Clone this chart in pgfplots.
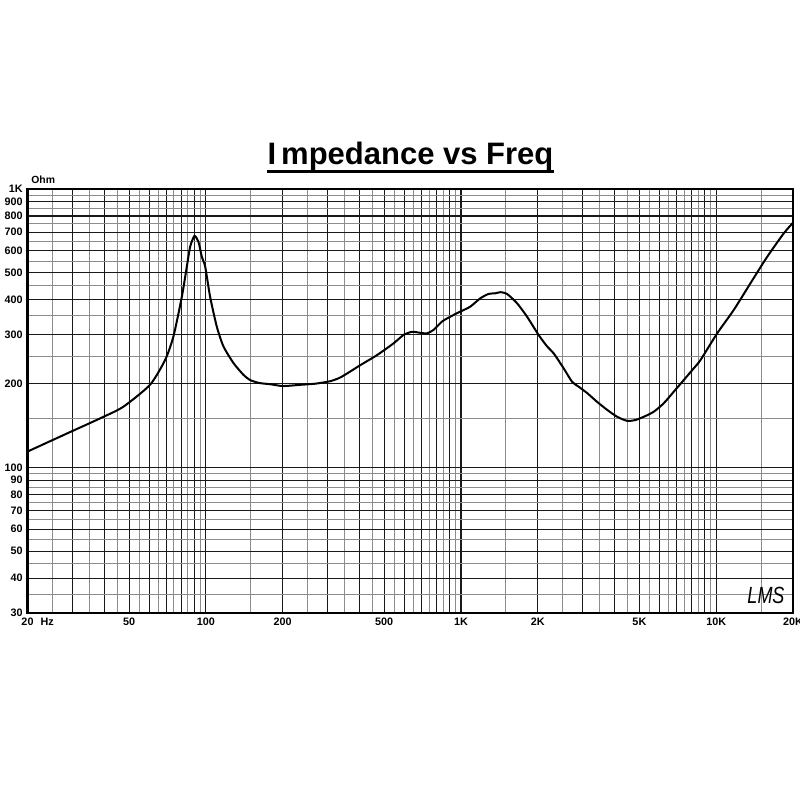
\documentclass[border=0pt]{standalone}
\usepackage{fontspec}
\setmainfont{Liberation Sans}
\usepackage{pgfplots}
\pgfplotsset{compat=1.18}
\begin{document}
\begin{tikzpicture}
\path[use as bounding box] (0,0) rectangle (400pt,400pt);
\begin{axis}[
  at={(13.75pt,93.5pt)}, anchor=south west,
  scale only axis, width=382.75pt, height=212pt,
  xmode=log, ymode=log,
  xmin=20, xmax=20000, ymin=30, ymax=1000,
  xtick={20,30,40,50,60,70,80,90,100,200,300,400,500,600,700,800,900,1000,2000,3000,4000,5000,6000,7000,8000,9000,10000,20000},
  xticklabels={20\rlap{\hspace{3.5pt}Hz},,,50,,,,,100,200,,,500,,,,,1K,2K,,,5K,,,,,10K,20K},
  minor xtick={25,35,45,55,65,75,85,95,150,250,350,450,550,650,750,850,950,1500,2500,3500,4500,5500,6500,7500,8500,9500,15000},
  ytick={30,40,50,60,70,80,90,100,200,300,400,500,600,700,800,900,1000},
  yticklabels={30,40,50,60,70,80,90,100,200,300,400,500,600,700,800,900,1K},
  minor ytick={35,45,55,65,75,85,95,150,250,350,450,550,650,750,850,950},
  grid=both,
  major grid style={black!90, line width=0.55pt},
  minor grid style={black!45, line width=0.5pt},
  major tick length=0pt, minor tick length=0pt,
  axis line style={line width=1.25pt},
  tick label style={font=\fontsize{5.4}{6.5}\selectfont\bfseries},
  xticklabel style={inner sep=0pt, yshift=-2.5pt, anchor=north},
  yticklabel style={inner sep=0pt, xshift=-2.25pt, anchor=east},
]
\addplot[black, line width=1pt, smooth, tension=0.4] coordinates {
(20,114)(24.9,125)(29.4,134)(38.5,150)(47.4,165)(60.4,198)(69.2,243)(74.6,295)(80.5,410)(84.2,526)(86.8,621)(90.2,678)(93.5,647)(96.4,571)(99.4,526)(103.9,410)(110.4,320)(117.2,272)(128.3,237)(140.4,215)(149,206)(162,201)(178.6,199)(200.8,196)(234,198)(270,200)(307,204)(335,210)(365,220)(403,233)(468,253)(544,279)(595,299)(642,307)(682,305)(735,303)(781,312)(842,334)(908,348)(994,363)(1087,378)(1190,405)(1283,420)(1363,422)(1426,426)(1514,420)(1657,389)(1814,348)(2014,299)(2174,272)(2306,257)(2524,227)(2724,203)(2891,195)(3119,185)(3414,172)(3737,161)(4090,152)(4476,147)(4824,148)(5200,152)(5692,158.5)(6229,170)(6817,187)(7463,206)(8166,227)(8677,243)(10086,303)(11720,368)(13628,459)(15842,571)(18400,693)(20000,757)
};
\end{axis}
\node[anchor=base, inner sep=0pt, font=\fontsize{15.5}{18}\selectfont\bfseries] (title) at (205.25pt,317.5pt) {I\kern2.5pt mpedance vs Freq};
\draw[line width=1.5pt] ([yshift=-3.2pt]title.base west) -- ([yshift=-3.2pt]title.base east);
\node[anchor=base west, inner sep=0pt, font=\fontsize{5.2}{6}\selectfont\bfseries] at (15.5pt,308pt) {Ohm};
\node[anchor=center, inner sep=0pt, font=\fontsize{9}{10}\selectfont\itshape, yscale=1.3] at (383pt,102.5pt) {LMS};
\end{tikzpicture}
\end{document}
